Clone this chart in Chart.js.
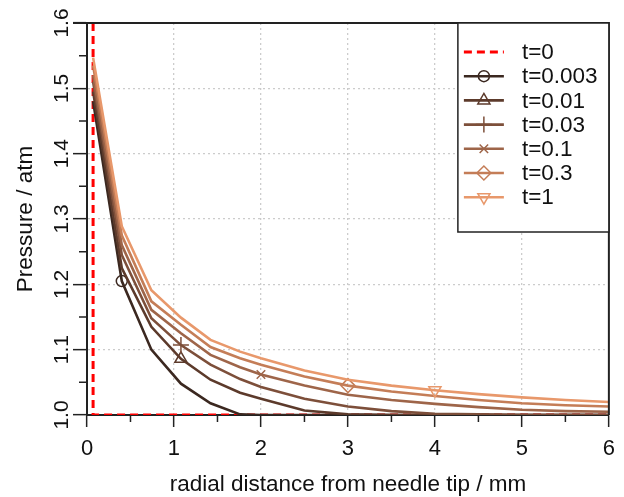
<!DOCTYPE html>
<html>
<head>
<meta charset="utf-8">
<script src="https://cdn.jsdelivr.net/npm/chart.js@4.4.1/dist/chart.umd.min.js"></script>
<style>
  html, body { margin: 0; padding: 0; background: #fff; }
  #wrap { width: 624px; height: 497px; }
</style>
</head>
<body>
<div id="wrap"><canvas id="c" width="624" height="497"></canvas></div>
<script>
// radial distance (mm) of the profile nodes
const radius = [0.07, 0.4, 0.74, 1.08, 1.42, 1.76, 2.0, 2.5, 3.0, 3.5, 4.0, 4.5, 5.0, 5.5, 6.0];

// pressure (atm) for each time
const p0003 = [1.480, 1.205, 1.100, 1.048, 1.018, 1.001, 1.000, 1.000, 1.000, 1.000, 1.000, 1.000, 1.000, 1.000, 1.000];
const p001  = [1.495, 1.225, 1.135, 1.086, 1.054, 1.034, 1.025, 1.007, 1.001, 1.000, 1.000, 1.000, 1.000, 1.000, 1.000];
const p003  = [1.510, 1.245, 1.148, 1.107, 1.077, 1.055, 1.043, 1.025, 1.013, 1.006, 1.002, 1.001, 1.000, 1.000, 1.000];
const p01   = [1.520, 1.260, 1.161, 1.125, 1.092, 1.073, 1.062, 1.045, 1.031, 1.023, 1.017, 1.012, 1.008, 1.006, 1.005];
const p03   = [1.535, 1.275, 1.174, 1.138, 1.104, 1.087, 1.077, 1.059, 1.045, 1.036, 1.029, 1.023, 1.018, 1.015, 1.013];
const p1    = [1.547, 1.289, 1.191, 1.149, 1.115, 1.097, 1.087, 1.068, 1.054, 1.045, 1.038, 1.032, 1.027, 1.023, 1.020];

// initial condition t=0 (step at the needle tip)
const t0X = [0.07, 0.07, 6.0];
const t0Y = [1.6, 1.0, 1.0];

const labels   = ['t=0.003', 't=0.01', 't=0.03', 't=0.1', 't=0.3', 't=1'];
const profiles = [p0003, p001, p003, p01, p03, p1];
const markerX  = [0.4, 1.08, 1.08, 2.0, 3.0, 4.0];
const colors   = ['#3b2820', '#5c3a2b', '#7d4f3a', '#9e6549', '#c47d57', '#e8986b'];
const styles   = ['circle', 'triangle', 'cross', 'crossRot', 'rectRot', 'triangle'];
const rotations = [0, 0, 0, 0, 0, 180];
const sizes    = [5.5, 7, 8, 6, 7, 7];

const minorX = [0.5, 1.5, 2.5, 3.5, 4.5, 5.5];
const minorY = [1.05, 1.15, 1.25, 1.35, 1.45, 1.55];

const FONT = '"Liberation Sans", Arial, sans-serif';

const datasets = [{
  label: 't=0',
  data: t0X.map((x, i) => ({x: x, y: t0Y[i]})),
  borderColor: '#ff0000',
  borderWidth: 3,
  borderDash: [8, 5],
  pointRadius: 0,
  order: 10
}];
profiles.forEach((p, k) => {
  const mi = radius.indexOf(markerX[k]);
  datasets.push({
    label: labels[k],
    data: radius.map((x, i) => ({x: x, y: p[i]})),
    borderColor: colors[k],
    borderWidth: 2.6,
    pointStyle: styles[k],
    pointRotation: rotations[k],
    pointRadius: radius.map((x, i) => i === mi ? sizes[k] : 0),
    pointBorderWidth: 1.5,
    pointBorderColor: colors[k],
    pointBackgroundColor: 'rgba(0,0,0,0)',
    order: 9 - k
  });
});

const frame = {
  id: 'frame',
  afterDraw(chart) {
    const {ctx, chartArea: a} = chart;
    const sx = chart.scales.x, sy = chart.scales.y;
    ctx.save();
    ctx.strokeStyle = '#222';
    ctx.lineWidth = 2;
    ctx.beginPath();
    ctx.moveTo(a.left - 14, a.top); ctx.lineTo(a.right, a.top); ctx.lineTo(a.right, a.bottom);
    ctx.stroke();

    // minor ticks
    ctx.lineWidth = 1.5;
    ctx.beginPath();
    minorX.forEach(v => { const px = sx.getPixelForValue(v); ctx.moveTo(px, a.bottom); ctx.lineTo(px, a.bottom + 7); });
    minorY.forEach(v => { const py = sy.getPixelForValue(v); ctx.moveTo(a.left, py); ctx.lineTo(a.left - 8, py); });
    ctx.stroke();

    // legend
    const bw = 151, bh = 209;
    const bx = a.right - bw, by = a.top;
    ctx.fillStyle = '#fff';
    ctx.fillRect(bx, by, bw, bh);
    ctx.lineWidth = 1.5;
    ctx.strokeStyle = '#222';
    ctx.strokeRect(bx, by, bw, bh);
    ctx.font = '22.5px ' + FONT;
    ctx.textBaseline = 'middle';
    ctx.textAlign = 'left';
    chart.data.datasets.forEach((ds, i) => {
      const y = by + 29 + i * 24.2;
      ctx.strokeStyle = ds.borderColor;
      ctx.lineWidth = ds.borderWidth;
      ctx.setLineDash(ds.borderDash || []);
      ctx.beginPath(); ctx.moveTo(bx + 6, y); ctx.lineTo(bx + 46, y); ctx.stroke();
      ctx.setLineDash([]);
      if (ds.pointStyle) {
        const k = i - 1;
        ctx.lineWidth = 1.5;
        ctx.fillStyle = 'rgba(0,0,0,0)';
        Chart.helpers.drawPoint(ctx, {pointStyle: ds.pointStyle, rotation: ds.pointRotation, radius: sizes[k], borderWidth: 1.5}, bx + 26, y);
      }
      ctx.fillStyle = '#111';
      ctx.fillText(ds.label, bx + 64, y + 1);
    });
    ctx.restore();
  }
};

new Chart(document.getElementById('c'), {
  type: 'line',
  data: {datasets: datasets},
  plugins: [frame],
  options: {
    responsive: false,
    animation: false,
    devicePixelRatio: 1,
    layout: {padding: {left: 0, top: 23, right: 15, bottom: 0}},
    plugins: {legend: {display: false}, tooltip: {enabled: false}},
    elements: {line: {tension: 0, borderCapStyle: 'butt'}},
    scales: {
      x: {
        type: 'linear', min: 0, max: 6,
        afterFit: s => { s.height = 82; },
        ticks: {stepSize: 1, color: '#111', padding: 9, font: {size: 22, family: FONT}, maxRotation: 0},
        grid: {
          color: c => (c.index === 0 || c.index === 6) ? 'rgba(0,0,0,0)' : '#cccccc',
          lineWidth: 1.3, tickLength: 12, tickColor: '#222', tickWidth: 1.5
        },
        border: {color: '#222', width: 2, dash: [2, 3]},
        title: {display: true, text: 'radial distance from needle tip / mm', color: '#111',
                font: {size: 22.5, family: FONT}, padding: {top: 0, bottom: -1}}
      },
      y: {
        type: 'linear', min: 1.0, max: 1.6,
        afterFit: s => { s.width = 87; },
        ticks: {stepSize: 0.1, color: '#111', padding: -4, minRotation: 90, maxRotation: 90, crossAlign: 'center',
                font: {size: 21, family: FONT}, callback: v => v.toFixed(1)},
        grid: {
          color: c => (c.index === 0 || c.index === 6) ? 'rgba(0,0,0,0)' : '#cccccc',
          lineWidth: 1.3, tickLength: 14, tickColor: '#222', tickWidth: 1.5
        },
        border: {color: '#222', width: 2, dash: [2, 3]},
        title: {display: true, text: 'Pressure / atm', color: '#111',
                font: {size: 22.5, family: FONT}, padding: {top: 12.5, bottom: 0}}
      }
    }
  }
});
</script>
</body>
</html>
